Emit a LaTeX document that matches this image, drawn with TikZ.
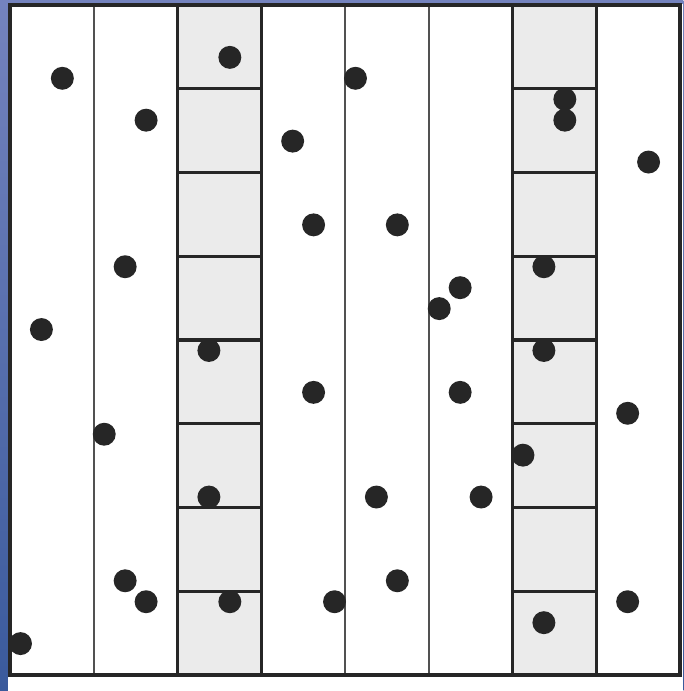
\documentclass[tikz,border=0pt]{standalone}
\usepackage{xcolor}
\usepackage{tikz}
\usetikzlibrary{positioning}
\definecolor{SlideTop}{HTML}{7483BE}
\definecolor{SlideBot}{HTML}{3A5A9C}
\definecolor{CellGrey}{HTML}{EBEBEB}
\definecolor{InkDark}{HTML}{262626}

\begin{document}
\begin{tikzpicture}[
    x=2.5cm, y=2.5cm,
    thinline/.style={draw=InkDark!80, line width=1.4pt},
    thickline/.style={draw=InkDark, line width=2.6pt},
    greycol/.style={fill=CellGrey},
    ball/.style={fill=InkDark},
  ]
    % ---- slide background ----
    \useasboundingbox (-0.1195,-0.191) rectangle (8.041,8.06);
    \shade[top color=SlideTop, bottom color=SlideBot] (-0.1195,-0.191) rectangle (8.041,8.06);
    \fill[white] (-0.024,-0.191) rectangle (8.041,8.012);

    % ---- grey columns ----
    \fill[greycol] (2,0) rectangle (3,8);
    \fill[greycol] (6,0) rectangle (7,8);

    % ---- column lines ----
    \foreach \cx in {1,4,5,8} {
      \draw[thinline] (\cx,0) -- (\cx,8);
    }
    \foreach \cx in {2,3,6,7} {
      \draw[thickline] (\cx,0) -- (\cx,8);
    }

    % ---- cells in the grey columns ----
    \foreach \cy in {1,...,7} {
      \draw[thickline] (2,\cy) -- (3,\cy);
      \draw[thickline] (6,\cy) -- (7,\cy);
    }

    % ---- frame ----
    \draw[thickline] (0,0) rectangle (8,8);

    % ---- dots ----
    \foreach \px/\py in {
        0.625/7.125, 1.625/6.625, 2.625/7.375, 4.125/7.125, 3.375/6.375,
        6.625/6.875, 6.625/6.625, 7.625/6.125, 3.625/5.375, 4.625/5.375,
        1.375/4.875, 6.375/4.875, 5.375/4.625, 5.125/4.375, 0.375/4.125,
        2.375/3.875, 6.375/3.875, 3.625/3.375, 5.375/3.375, 7.375/3.125,
        1.125/2.875, 6.125/2.625, 2.375/2.125, 4.375/2.125, 5.625/2.125,
        1.375/1.125, 4.625/1.125, 1.625/0.875, 2.625/0.875, 3.875/0.875,
        7.375/0.875, 6.375/0.625, 0.125/0.375} {
      \fill[ball] (\px,\py) circle (0.137);
    }
\end{tikzpicture}
\end{document}
